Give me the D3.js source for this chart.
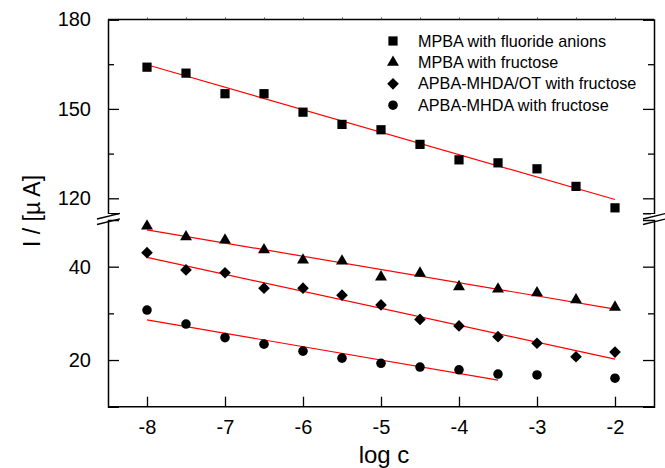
<!DOCTYPE html>
<html>
<head>
<meta charset="utf-8">
<script src="https://cdn.jsdelivr.net/npm/d3@7"></script>
<style>
  body { margin: 0; background: #fff; }
  svg { font-family: "Liberation Sans", Arial, sans-serif; }
</style>
</head>
<body>
<svg id="chart" width="665" height="468"></svg>
<script>
// data
const logC = [-8, -7.5, -7, -6.5, -6, -5.5, -5, -4.5, -4, -3.5, -3, -2.5, -2];
const mpbaFluoride = [164.0, 162.0, 155.1, 155.1, 148.9, 144.8, 143.0, 138.1, 132.9, 131.9, 129.9, 124.0, 116.8];
const mpbaFructose = [48.7, 46.4, 45.7, 43.6, 41.4, 41.2, 37.8, 38.6, 35.7, 35.2, 34.4, 32.9, 31.3];
const apbaOtFructose = [43.0, 39.3, 38.7, 35.4, 35.4, 33.9, 31.8, 28.7, 27.3, 25.0, 23.6, 20.7, 21.7];
const apbaFructose = [30.7, 27.7, 24.8, 23.4, 21.9, 20.4, 19.3, 18.5, 17.9, 17.0, 16.8, null, 16.1];

// linear fit end points [x0, y0, x1, y1]
const fitFluoride = [-8, 164.8, -2, 119.6];
const fitMpba = [-8, 47.9, -2, 30.9];
const fitApbaOt = [-8, 42.0, -2, 20.2];
const fitApba = [-8, 28.6, -3.5, 15.7];

const seriesNames = ["MPBA with fluoride anions", "MPBA with fructose", "APBA-MHDA/OT with fructose", "APBA-MHDA with fructose"];
const xTicks = [-8, -7, -6, -5, -4, -3, -2];
const topTicks = [120, 150, 180];
const topMinor = [135, 165];
const botTicks = [20, 40];
const botMinor = [30];

const svg = d3.select("#chart");

const mLeft = 108, mRight = 654, mTop = 19.5, mBottom = 406.7;

const x = d3.scaleLinear().domain([-8.5, -1.5]).range([mLeft, mRight]);
// broken y axis: two pieces
const yTop = d3.scaleLinear().domain([115, 180]).range([213.2, mTop]);
const yBot = d3.scaleLinear().domain([10, 50]).range([mBottom, 220]);

const g = svg.append("g");

// axes, left and right
function yAxis(scale, ticks, minor, side) {
  const ax = (side === "left" ? d3.axisLeft(scale) : d3.axisRight(scale))
    .tickValues(ticks).tickSize(-11).tickPadding(17);
  const a = g.append("g")
    .attr("transform", `translate(${side === "left" ? mLeft : mRight},0)`)
    .call(ax);
  if (side === "right") a.selectAll("text").remove();
  a.selectAll("text").attr("font-size", 20).attr("fill", "#000").attr("font-family", "Liberation Sans, Arial, sans-serif");
  a.selectAll("line").attr("stroke", "#000").attr("stroke-width", 1.3);
  a.select(".domain").attr("stroke", "#000").attr("stroke-width", 1.5);
  const mn = (side === "left" ? d3.axisLeft(scale) : d3.axisRight(scale))
    .tickValues(minor).tickSize(-6).tickFormat("");
  const b = g.append("g")
    .attr("transform", `translate(${side === "left" ? mLeft : mRight},0)`)
    .call(mn);
  b.select(".domain").remove();
  b.selectAll("line").attr("stroke", "#000").attr("stroke-width", 1.3);
}
yAxis(yTop, topTicks, topMinor, "left");
yAxis(yBot, botTicks, botMinor, "left");
yAxis(yTop, topTicks, topMinor, "right");
yAxis(yBot, botTicks, botMinor, "right");

// bottom x axis
const xa = g.append("g")
  .attr("transform", `translate(0,${mBottom})`)
  .call(d3.axisBottom(x).tickValues(xTicks).tickSize(-10).tickPadding(13).tickFormat(d => String(d)));
xa.selectAll("text").attr("font-size", 20).attr("fill", "#000").attr("font-family", "Liberation Sans, Arial, sans-serif");
xa.selectAll("line").attr("stroke", "#000").attr("stroke-width", 1.3);
xa.select(".domain").attr("d", `M${mLeft},0H${mRight}`).attr("stroke", "#000").attr("stroke-width", 1.5);

// top x axis, small half-unit ticks
const xt = g.append("g")
  .attr("transform", `translate(0,${mTop})`)
  .call(d3.axisTop(x).tickValues(d3.range(-8, -1.5, 0.5)).tickSize(2).tickFormat(""));
xt.selectAll("line").attr("stroke", "#444").attr("stroke-width", 1);
xt.select(".domain").attr("d", `M${mLeft},0H${mRight}`).attr("stroke", "#000").attr("stroke-width", 1.5);

// axis break marks
[mLeft, mRight].forEach(ax => {
  g.append("rect").attr("x", ax - 3).attr("y", 214).attr("width", 6).attr("height", 5).attr("fill", "#fff");
  [0, 5.5].forEach(off => {
    g.append("line")
      .attr("x1", ax - 11).attr("y1", 219 + off)
      .attr("x2", ax + 12).attr("y2", 213.3 + off)
      .attr("stroke", "#000").attr("stroke-width", 1.3);
  });
});

// fit lines
const fits = [[fitFluoride, yTop], [fitMpba, yBot], [fitApbaOt, yBot], [fitApba, yBot]];
g.append("g").selectAll("line")
  .data(fits)
  .join("line")
  .attr("x1", d => x(d[0][0])).attr("y1", d => d[1](d[0][1]))
  .attr("x2", d => x(d[0][2])).attr("y2", d => d[1](d[0][3]))
  .attr("stroke", "#ff0000").attr("stroke-width", 1.2);

// markers
const shapes = [
  d3.symbol().type(d3.symbolSquare).size(85),
  d3.symbol().type(d3.symbolTriangle).size(62),
  d3.symbol().type(d3.symbolSquare).size(68),
  d3.symbol().type(d3.symbolCircle).size(72)
];
const rotate = [0, 0, 45, 0];
const allSeries = [[mpbaFluoride, yTop], [mpbaFructose, yBot], [apbaOtFructose, yBot], [apbaFructose, yBot]];

allSeries.forEach(([vals, ys], i) => {
  const pts = logC.map((c, j) => ({ c, v: vals[j] })).filter(d => d.v != null);
  g.append("g").selectAll("path")
    .data(pts)
    .join("path")
    .attr("d", shapes[i])
    .attr("transform", d => `translate(${x(d.c)},${ys(d.v)}) rotate(${rotate[i]})`)
    .attr("fill", "#000");
});

// legend
const legend = g.append("g").attr("transform", "translate(393,41)");
const li = legend.selectAll("g")
  .data(seriesNames)
  .join("g")
  .attr("transform", (d, i) => `translate(0,${i * 21.4})`);
li.append("path")
  .attr("d", (d, i) => shapes[i]())
  .attr("transform", (d, i) => `rotate(${rotate[i]})`)
  .attr("fill", "#000");
li.append("text")
  .attr("x", 25)
  .attr("dy", "0.35em")
  .attr("font-size", 16.2)
  .text(d => d);

// axis titles
svg.append("text")
  .attr("x", (mLeft + mRight) / 2 + 3)
  .attr("y", 463)
  .attr("text-anchor", "middle")
  .attr("font-size", 24)
  .text("log c");

svg.append("text")
  .attr("transform", "translate(40,211) rotate(-90)")
  .attr("text-anchor", "middle")
  .attr("font-size", 23)
  .text("I / [µ A]");
</script>
</body>
</html>
